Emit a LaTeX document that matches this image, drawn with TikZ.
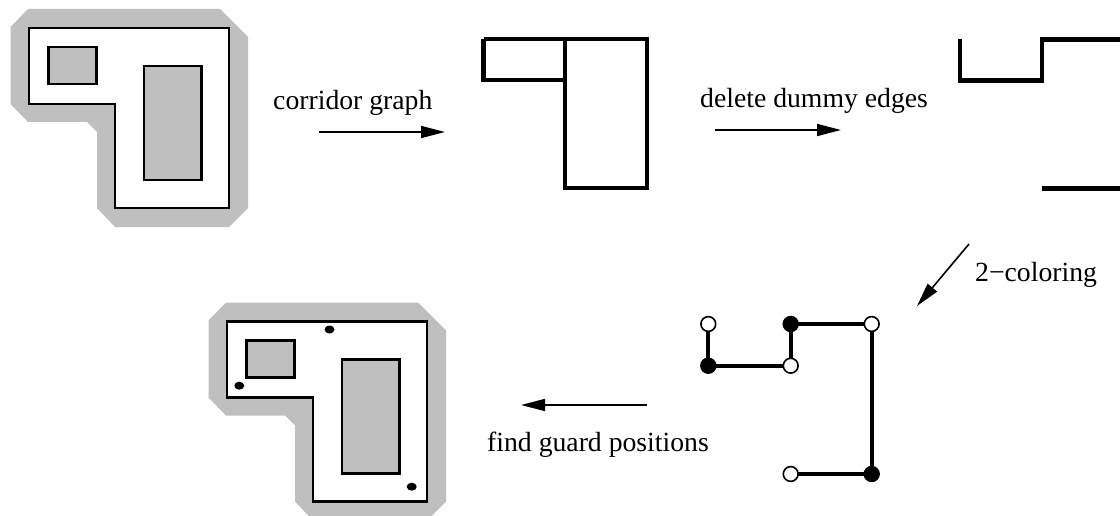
\documentclass[tikz,border=0pt]{standalone}
\usepackage{fontspec}
\setmainfont{Liberation Serif}
\usetikzlibrary{arrows.meta,shapes.geometric,backgrounds}
\definecolor{wallgray}{gray}{0.75}
\tikzset{
  x=1pt,y=-1pt,
  halo/.style={fill=wallgray,draw=none},
  wall/.style={draw=black,line width=2.2pt,fill=white,line join=miter},
  hole/.style={draw=black,line width=2.2pt,fill=wallgray},
  thick edge/.style={draw=black,line width=4.3pt,line join=miter},
  flow/.style={draw=black,line width=1.6pt,-{Triangle[length=24pt,width=12pt]}},
  lab/.style={inner sep=0pt,anchor=base west,font=\fontsize{27.7}{32}\selectfont},
  guard/.style={ellipse,fill=black,minimum width=10pt,minimum height=8pt,inner sep=0pt},
  wnode/.style={circle,draw=black,fill=white,line width=1.6pt,minimum size=14.8pt,inner sep=0pt},
  bnode/.style={circle,draw=black,fill=black,line width=1.6pt,minimum size=14.8pt,inner sep=0pt},
}
\begin{document}
\begin{tikzpicture}
\useasboundingbox (0,0) rectangle (1120,516);
\begin{scope}
\clip (0,0) rectangle (1120,516);
% top-left floor plan
\path[halo] (28,9)--(220,9)--(248,37)--(248,208)--(229,227)--(115,227)--(97,208)--(97,132)--(87,122)--(28,122)--(10.5,104)--(10.5,27)--cycle;
\path[wall] (29,28)--(229,28)--(229,208)--(115,208)--(115,104)--(29,104)--cycle;
\path[hole] (48.5,47) rectangle (96.5,84);
\path[hole] (144,66) rectangle (201.5,180);
% bottom floor plan
\begin{scope}[shift={(198,293.5)}]
\path[halo] (28,9)--(220,9)--(248,37)--(248,208)--(229,227)--(115,227)--(97,208)--(97,132)--(87,122)--(28,122)--(10.5,104)--(10.5,27)--cycle;
\path[wall] (29,28)--(229,28)--(229,208)--(115,208)--(115,104)--(29,104)--cycle;
\path[hole] (48.5,47) rectangle (96.5,84);
\path[hole] (144,66) rectangle (201.5,180);
\end{scope}
\end{scope}
\node[guard] (g1) at (329.5,329.5) {};
\node[guard] (g2) at (239.3,385.7) {};
\node[guard] (g3) at (411.7,486.7) {};
% corridor graph
\coordinate (ca) at (483.5,39);
\coordinate (cb) at (565,39);
\coordinate (cc) at (646.7,39);
\coordinate (cd) at (646.7,188);
\coordinate (ce) at (565,188);
\coordinate (cf) at (565,80);
\coordinate (cg) at (483.5,80);
\draw[thick edge] (ca)--(cc)--(cd)--(ce)--(cb);
\draw[thick edge] (ca)--(cg)--(cf);
% dummy edges deleted
\coordinate (da) at (960,39.5);
\coordinate (db) at (960,80.5);
\coordinate (dc) at (1041.7,80.5);
\coordinate (dd) at (1041.7,39.5);
\coordinate (de) at (1120,39.5);
\coordinate (df) at (1041.7,188.5);
\coordinate (dg) at (1120,188.5);
\draw[thick edge] (da)--(db)--(dc)--(dd)--(de);
\draw[thick edge] (df)--(dg);
% 2-colouring
\node[wnode] (n1) at (708.3,324) {};
\node[bnode] (n2) at (708.3,365.7) {};
\node[wnode] (n3) at (790.7,365.7) {};
\node[bnode] (n4) at (790.7,324) {};
\node[wnode] (n5) at (871.7,324) {};
\node[bnode] (n6) at (871.7,474) {};
\node[wnode] (n7) at (790.7,474) {};
\begin{scope}[on background layer]
\draw[thick edge] (n1.center)--(n2.center)--(n3.center)--(n4.center)--(n5.center)--(n6.center)--(n7.center);
\end{scope}
% arrows
\coordinate (a1s) at (319,132); \coordinate (a1e) at (445,132);
\coordinate (a2s) at (715,130); \coordinate (a2e) at (841,130);
\coordinate (a3s) at (969,244); \coordinate (a3e) at (917,306);
\coordinate (a4s) at (647,405); \coordinate (a4e) at (521,405);
\draw[flow] (a1s)--(a1e);
\draw[flow] (a2s)--(a2e);
\draw[flow] (a3s)--(a3e);
\draw[flow] (a4s)--(a4e);
% labels
\node[lab] (l1) at (273,110) {corridor graph};
\node[lab] (l2) at (700,108) {delete dummy edges};
\node[lab] (l3) at (975,281) {2−coloring};
\node[lab] (l4) at (487,451) {find guard positions};
\end{tikzpicture}
\end{document}
